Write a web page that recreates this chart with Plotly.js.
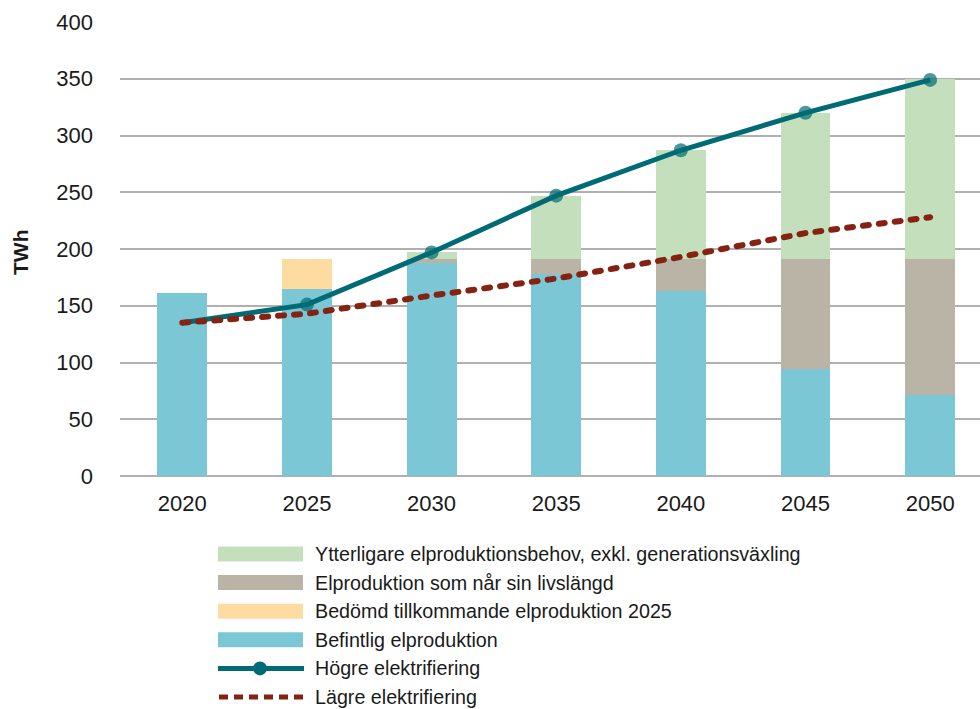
<!DOCTYPE html>
<html>
<head>
<meta charset="utf-8">
<script src="https://cdn.plot.ly/plotly-3.0.1.min.js"></script>
<style>
html,body{margin:0;padding:0;background:#fff;}
#chart{width:980px;height:709px;}
.scatterlayer .trace:nth-child(2) .js-line{stroke-linecap:round;}
</style>
</head>
<body>
<div id="chart"></div>
<script>
var years = ['2020','2025','2030','2035','2040','2045','2050'];
var befintlig = [161, 165, 188, 178, 163, 94, 71];
var bedomd = [0, 26, 0, 0, 0, 0, 0];
var livslangd = [0, 0, 3, 13, 28, 97, 120];
var ytterligare = [0, 0, 6, 56, 96, 129, 159];
var hogre = [135, 151, 197, 247, 287, 320, 349];
var lagre = [135, 143, 159, 174, 193, 214, 228];
var hogreMarkerSize = [0, 14, 14, 14, 14, 14, 14];

var names = {
  ytterligare: 'Ytterligare elproduktionsbehov, exkl. generationsväxling',
  livslangd: 'Elproduktion som når sin livslängd',
  bedomd: 'Bedömd tillkommande elproduktion 2025',
  befintlig: 'Befintlig elproduktion',
  hogre: 'Högre elektrifiering',
  lagre: 'Lägre elektrifiering'
};
var colors = {
  ytterligare: '#c4dfbb',
  livslangd: '#bab4a7',
  bedomd: '#fddba1',
  befintlig: '#7bc7d5',
  hogre: '#006b74',
  lagre: '#862212'
};

function bar(key, vals) {
  return {type:'bar', x: years, y: vals, name: names[key], width: 0.4,
    marker:{color: colors[key], line:{width:0}}, showlegend:false, hoverinfo:'y+name'};
}

var traces = [
  bar('befintlig', befintlig),
  bar('bedomd', bedomd),
  bar('livslangd', livslangd),
  bar('ytterligare', ytterligare),
  {type:'scatter', mode:'lines+markers', x: years, y: hogre, name: names.hogre,
    line:{color: colors.hogre, width:5}, marker:{color: colors.hogre, size: hogreMarkerSize, line:{width:0}}, showlegend:false},
  {type:'scatter', mode:'lines', x: years, y: lagre, name: names.lagre,
    line:{color: colors.lagre, width:6, dash:'6px,10px'}, showlegend:false}
];

// manual legend (paper coordinates derived from pixel layout)
var L = 120, R = 980, T = 22, B = 476;
function px(x){ return (x - L) / (R - L); }
function py(y){ return (B - y) / (B - T); }
var legendKeys = ['ytterligare','livslangd','bedomd','befintlig','hogre','lagre'];
var shapes = [], annotations = [];
legendKeys.forEach(function(k, i){
  var cy = 554 + i * 28.6;
  if (i < 4) {
    shapes.push({type:'rect', xref:'paper', yref:'paper', x0:px(218), x1:px(303), y0:py(cy-7.5), y1:py(cy+7.5),
      fillcolor: colors[k], line:{width:0}});
  } else if (k === 'hogre') {
    shapes.push({type:'line', xref:'paper', yref:'paper', x0:px(218), x1:px(304), y0:py(cy), y1:py(cy),
      line:{color: colors[k], width:5}});
    shapes.push({type:'circle', xref:'paper', yref:'paper', x0:px(253), x1:px(267), y0:py(cy-7), y1:py(cy+7),
      fillcolor: colors[k], line:{width:0}});
  } else {
    shapes.push({type:'line', xref:'paper', yref:'paper', x0:px(219), x1:px(304), y0:py(cy), y1:py(cy),
      line:{color: colors[k], width:5, dash:'9px,6px'}});
  }
  annotations.push({xref:'paper', yref:'paper', x:px(313), y:py(cy), xanchor:'left', yanchor:'middle',
    text: names[k], showarrow:false, font:{size:19.7, color:'#1a1a1a'}});
});
annotations.push({xref:'paper', yref:'paper', x:px(20), y:py(253), xanchor:'center', yanchor:'middle',
  text:'<b>TWh</b>', textangle:-90, showarrow:false, font:{size:21, color:'#1a1a1a'}});

var layout = {
  width: 980, height: 709,
  margin: {l: L, r: 0, t: T, b: 709 - B, pad: 0},
  paper_bgcolor: '#fff', plot_bgcolor: '#fff',
  font: {family: 'Liberation Sans, Arial, sans-serif', size: 20, color: '#1a1a1a'},
  barmode: 'stack',
  showlegend: false,
  xaxis: {type:'category', range:[-0.5, 6.4], showgrid:false, zeroline:false, showline:false,
    ticks:'', ticklabelstandoff: 12, tickfont:{size:22, color:'#1a1a1a'}, fixedrange:true},
  yaxis: {range:[0, 400], dtick:50, showgrid:true, gridcolor:'#b0b0b0', gridwidth:2,
    zeroline:true, zerolinecolor:'#b0b0b0', zerolinewidth:2, showline:false, ticks:'',
    ticklabelstandoff: 26, tickfont:{size:22, color:'#1a1a1a'}, fixedrange:true},
  shapes: shapes,
  annotations: annotations
};

Plotly.newPlot('chart', traces, layout, {displayModeBar:false, staticPlot:true});
</script>
</body>
</html>
